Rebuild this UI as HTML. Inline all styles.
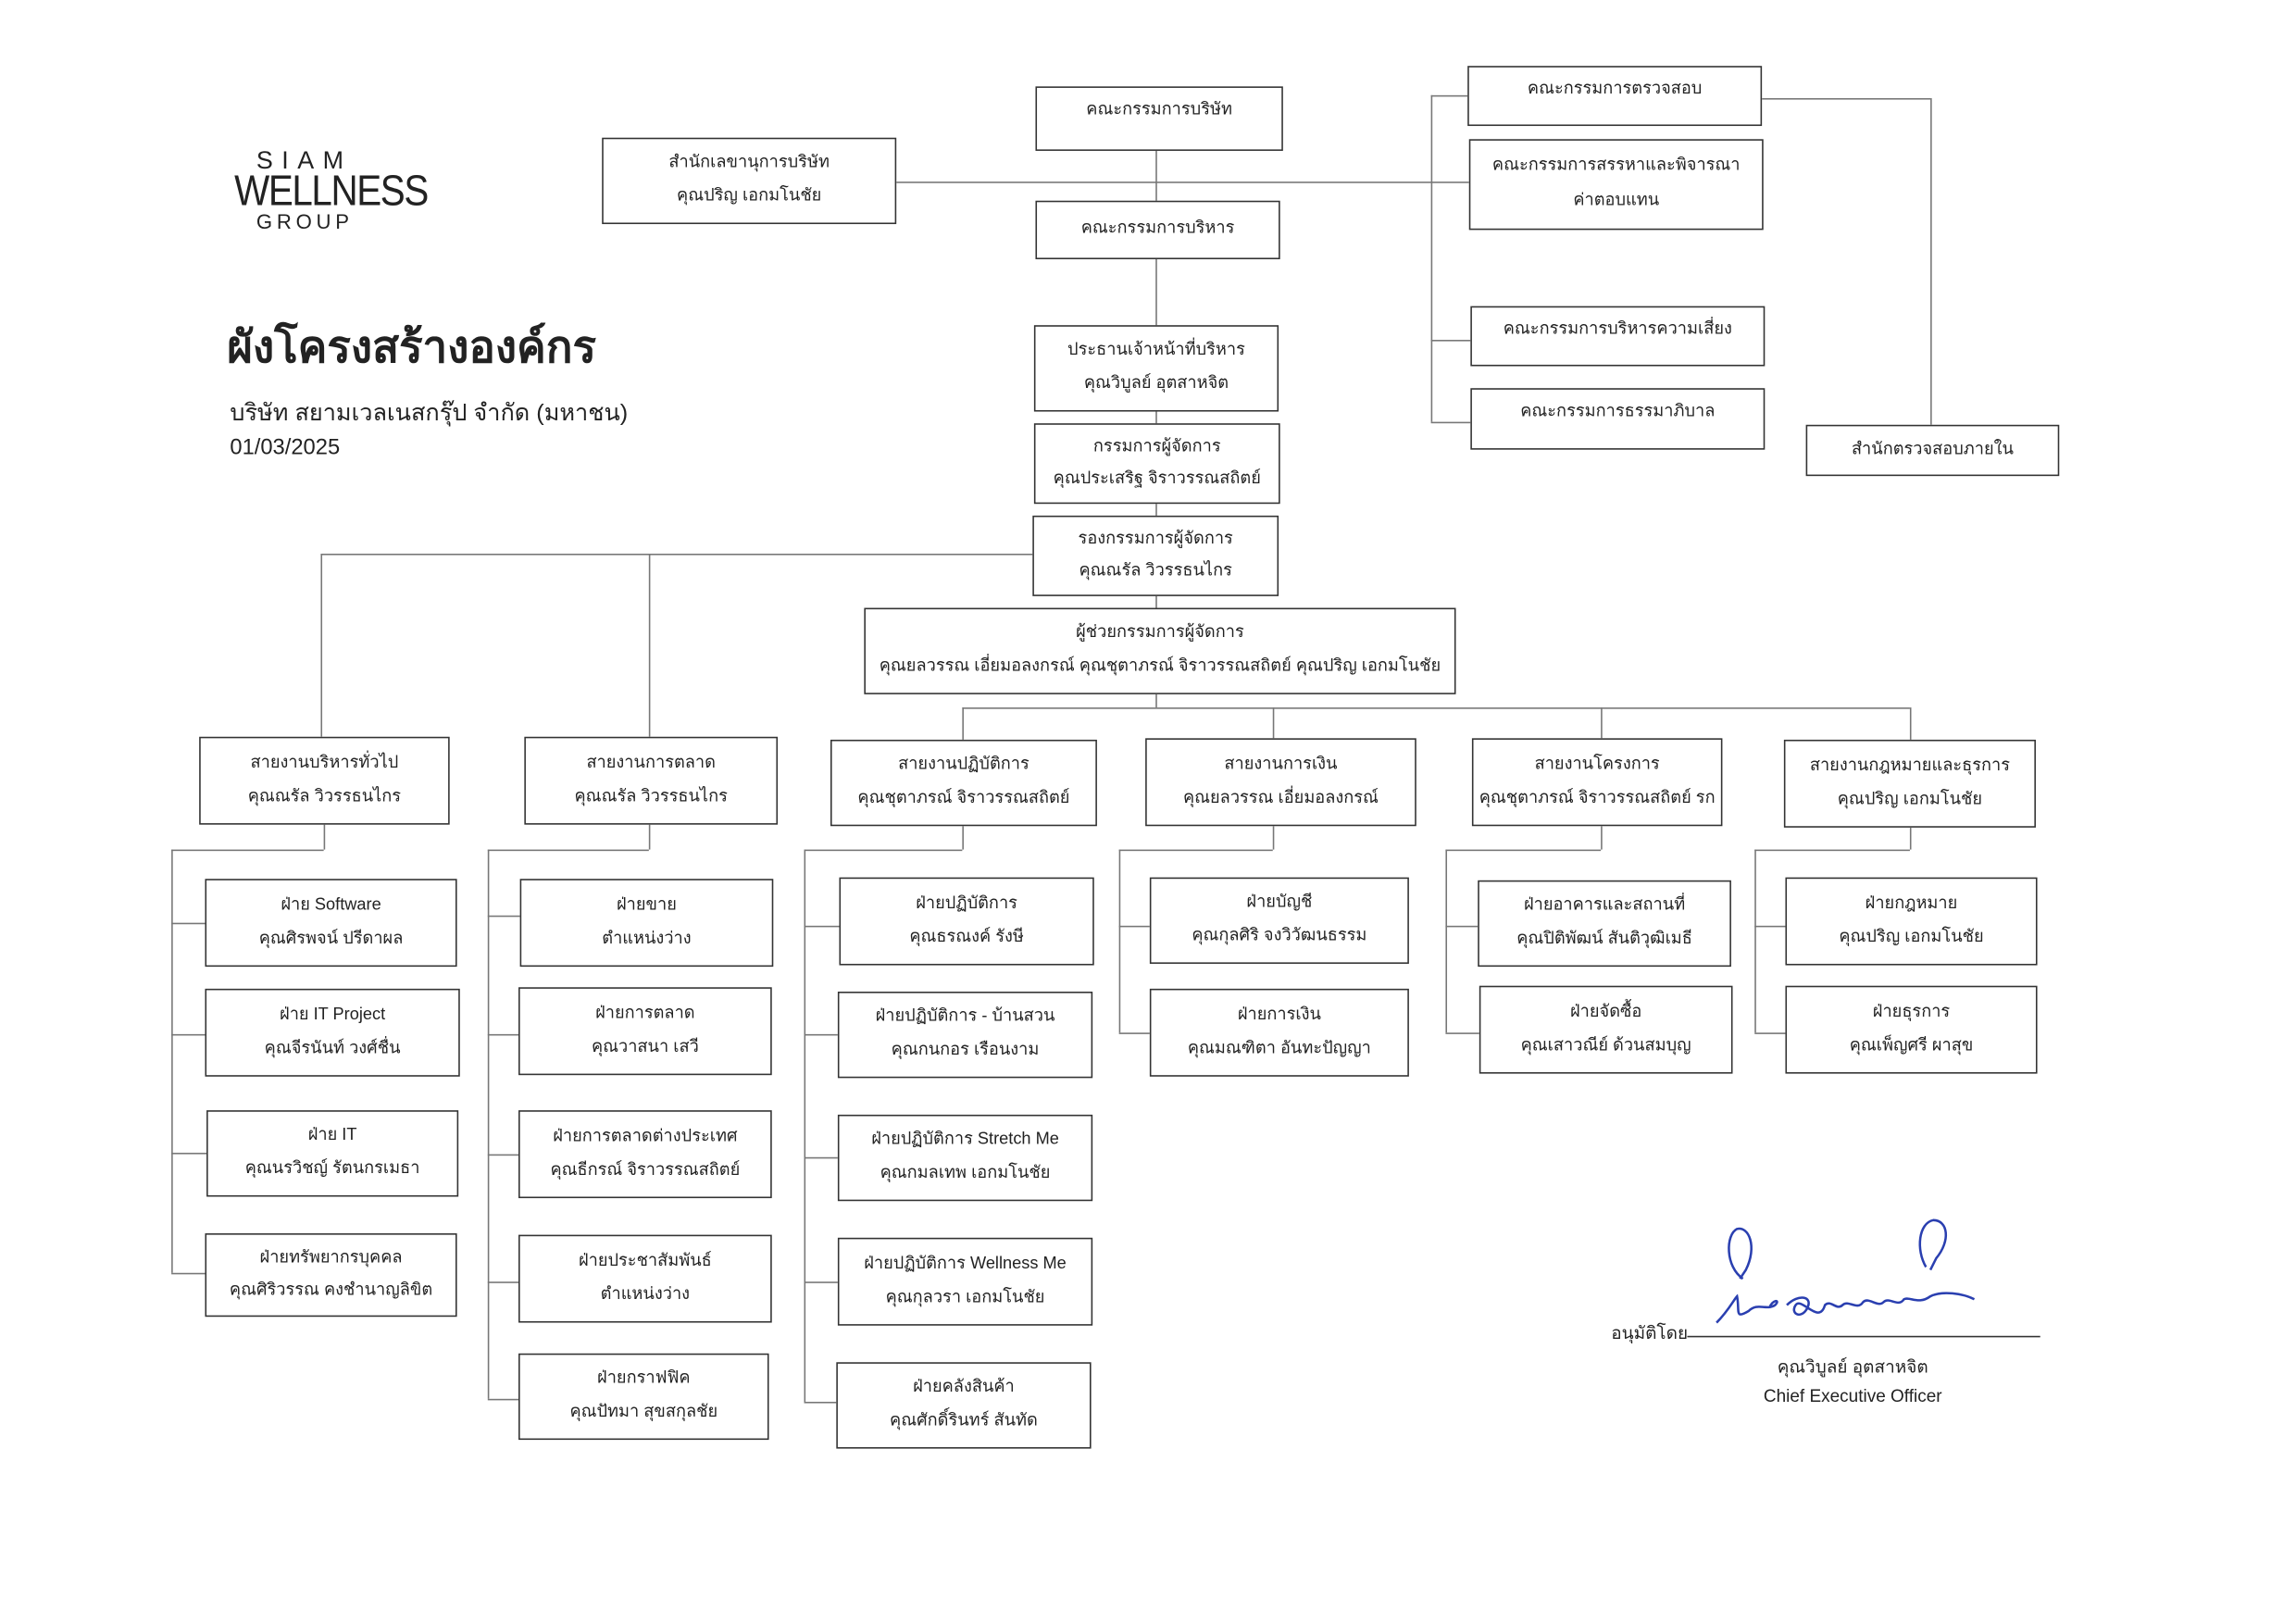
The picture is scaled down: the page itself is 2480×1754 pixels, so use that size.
<!DOCTYPE html>
<html><head><meta charset="utf-8">
<style>
html,body{margin:0;padding:0;background:#fff;}
body{width:2480px;height:1754px;overflow:hidden;position:relative;}
#w{position:absolute;left:0;top:0;width:1568px;height:1109px;transform:scale(1.582);transform-origin:0 0;font-family:"Liberation Sans","DejaVu Sans",sans-serif;color:#222;}
.b{position:absolute;box-sizing:border-box;border:1px solid #333;background:#fff;display:flex;flex-direction:column;justify-content:space-evenly;align-items:center;font-size:11.5px;line-height:1;white-space:nowrap;}
.t{justify-content:flex-start;padding-top:10px;}
.h{position:absolute;height:1px;background:#777;}
.v{position:absolute;width:1px;background:#777;}
.x{position:absolute;white-space:nowrap;}
</style></head><body><div id="w">

<div class="x" style="left:175px;top:100px;font-size:17px;letter-spacing:6px;">SIAM</div>
<div class="x" style="left:160px;top:115px;font-size:29px;letter-spacing:-1px;transform:scaleX(0.88);transform-origin:0 0;">WELLNESS</div>
<div class="x" style="left:175px;top:143px;font-size:14px;letter-spacing:3px;">GROUP</div>

<div class="x" style="left:155px;top:214px;font-size:30px;font-weight:bold;">ผังโครงสร้างองค์กร</div>
<div class="x" style="left:157px;top:270px;font-size:16px;">บริษัท สยามเวลเนสกรุ๊ป จำกัด (มหาชน)</div>
<div class="x" style="left:157px;top:297px;font-size:15px;">01/03/2025</div>

<div class="v" style="left:789px;top:103px;height:312px;"></div>
<div class="h" style="left:612px;top:124px;width:391px;"></div>
<div class="v" style="left:977px;top:65px;height:223px;"></div>
<div class="h" style="left:977px;top:65px;width:25px;"></div>
<div class="h" style="left:977px;top:232px;width:27px;"></div>
<div class="h" style="left:977px;top:288px;width:27px;"></div>
<div class="h" style="left:1203px;top:67px;width:115px;"></div>
<div class="v" style="left:1318px;top:67px;height:223px;"></div>
<div class="h" style="left:219px;top:378px;width:486px;"></div>
<div class="v" style="left:219px;top:378px;height:125px;"></div>
<div class="v" style="left:443px;top:378px;height:125px;"></div>
<div class="v" style="left:789px;top:474px;height:9px;"></div>
<div class="h" style="left:657px;top:483px;width:647px;"></div>
<div class="v" style="left:657px;top:483px;height:22px;"></div>
<div class="v" style="left:869px;top:483px;height:21px;"></div>
<div class="v" style="left:1093px;top:483px;height:21px;"></div>
<div class="v" style="left:1304px;top:483px;height:22px;"></div>

<div class="b t" style="left:707px;top:59px;width:169px;height:44px;">คณะกรรมการบริษัท</div>
<div class="b" style="left:411px;top:94px;width:201px;height:59px;"><div>สำนักเลขานุการบริษัท</div><div>คุณปริญ เอกมโนชัย</div></div>
<div class="b" style="left:707px;top:137px;width:167px;height:40px;">คณะกรรมการบริหาร</div>
<div class="b" style="left:706px;top:222px;width:167px;height:59px;"><div>ประธานเจ้าหน้าที่บริหาร</div><div>คุณวิบูลย์ อุตสาหจิต</div></div>
<div class="b" style="left:706px;top:289px;width:168px;height:55px;"><div>กรรมการผู้จัดการ</div><div>คุณประเสริฐ จิราวรรณสถิตย์</div></div>
<div class="b" style="left:705px;top:352px;width:168px;height:55px;"><div>รองกรรมการผู้จัดการ</div><div>คุณณรัล วิวรรธนไกร</div></div>
<div class="b" style="left:590px;top:415px;width:404px;height:59px;"><div>ผู้ช่วยกรรมการผู้จัดการ</div><div>คุณยลวรรณ เอี่ยมอลงกรณ์ คุณชุตาภรณ์ จิราวรรณสถิตย์ คุณปริญ เอกมโนชัย</div></div>

<div class="b t" style="left:1002px;top:45px;width:201px;height:41px;">คณะกรรมการตรวจสอบ</div>
<div class="b" style="left:1003px;top:95px;width:201px;height:62px;"><div>คณะกรรมการสรรหาและพิจารณา</div><div>ค่าตอบแทน</div></div>
<div class="b t" style="left:1004px;top:209px;width:201px;height:41px;">คณะกรรมการบริหารความเสี่ยง</div>
<div class="b t" style="left:1004px;top:265px;width:201px;height:42px;">คณะกรรมการธรรมาภิบาล</div>
<div class="b" style="left:1233px;top:290px;width:173px;height:35px;">สำนักตรวจสอบภายใน</div>

<div class="b" style="left:136px;top:503px;width:171px;height:60px;"><div>สายงานบริหารทั่วไป</div><div>คุณณรัล วิวรรธนไกร</div></div>
<div class="b" style="left:358px;top:503px;width:173px;height:60px;"><div>สายงานการตลาด</div><div>คุณณรัล วิวรรธนไกร</div></div>
<div class="b" style="left:567px;top:505px;width:182px;height:59px;"><div>สายงานปฏิบัติการ</div><div>คุณชุตาภรณ์ จิราวรรณสถิตย์</div></div>
<div class="b" style="left:782px;top:504px;width:185px;height:60px;"><div>สายงานการเงิน</div><div>คุณยลวรรณ เอี่ยมอลงกรณ์</div></div>
<div class="b" style="left:1005px;top:504px;width:171px;height:60px;"><div>สายงานโครงการ</div><div>คุณชุตาภรณ์ จิราวรรณสถิตย์ รก</div></div>
<div class="b" style="left:1218px;top:505px;width:172px;height:60px;"><div>สายงานกฎหมายและธุรการ</div><div>คุณปริญ เอกมโนชัย</div></div>

<div class="v" style="left:221px;top:563px;height:17px;"></div><div class="h" style="left:117px;top:580px;width:104px;"></div><div class="v" style="left:117px;top:580px;height:289px;"></div>
<div class="h" style="left:117px;top:630px;width:23px;"></div><div class="h" style="left:117px;top:706px;width:23px;"></div><div class="h" style="left:117px;top:787px;width:24px;"></div><div class="h" style="left:117px;top:869px;width:23px;"></div>

<div class="v" style="left:443px;top:563px;height:17px;"></div><div class="h" style="left:333px;top:580px;width:110px;"></div><div class="v" style="left:333px;top:580px;height:375px;"></div>
<div class="h" style="left:333px;top:625px;width:22px;"></div><div class="h" style="left:333px;top:706px;width:21px;"></div><div class="h" style="left:333px;top:788px;width:21px;"></div><div class="h" style="left:333px;top:875px;width:21px;"></div><div class="h" style="left:333px;top:955px;width:21px;"></div>

<div class="v" style="left:657px;top:564px;height:16px;"></div><div class="h" style="left:549px;top:580px;width:108px;"></div><div class="v" style="left:549px;top:580px;height:377px;"></div>
<div class="h" style="left:549px;top:632px;width:24px;"></div><div class="h" style="left:549px;top:706px;width:23px;"></div><div class="h" style="left:549px;top:790px;width:23px;"></div><div class="h" style="left:549px;top:875px;width:23px;"></div><div class="h" style="left:549px;top:957px;width:22px;"></div>

<div class="v" style="left:869px;top:564px;height:16px;"></div><div class="h" style="left:764px;top:580px;width:105px;"></div><div class="v" style="left:764px;top:580px;height:125px;"></div>
<div class="h" style="left:764px;top:632px;width:21px;"></div><div class="h" style="left:764px;top:705px;width:21px;"></div>

<div class="v" style="left:1093px;top:564px;height:16px;"></div><div class="h" style="left:987px;top:580px;width:106px;"></div><div class="v" style="left:987px;top:580px;height:125px;"></div>
<div class="h" style="left:987px;top:632px;width:22px;"></div><div class="h" style="left:987px;top:705px;width:23px;"></div>

<div class="v" style="left:1304px;top:565px;height:15px;"></div><div class="h" style="left:1198px;top:580px;width:106px;"></div><div class="v" style="left:1198px;top:580px;height:125px;"></div>
<div class="h" style="left:1198px;top:632px;width:21px;"></div><div class="h" style="left:1198px;top:705px;width:21px;"></div>

<div class="b" style="left:140px;top:600px;width:172px;height:60px;"><div>ฝ่าย Software</div><div>คุณศิรพจน์ ปรีดาผล</div></div>
<div class="b" style="left:140px;top:675px;width:174px;height:60px;"><div>ฝ่าย IT Project</div><div>คุณจีรนันท์ วงศ์ชื่น</div></div>
<div class="b" style="left:141px;top:758px;width:172px;height:59px;"><div>ฝ่าย IT</div><div>คุณนรวิชญ์ รัตนกรเมธา</div></div>
<div class="b" style="left:140px;top:842px;width:172px;height:57px;"><div>ฝ่ายทรัพยากรบุคคล</div><div>คุณศิริวรรณ คงชำนาญลิขิต</div></div>
<div class="b" style="left:355px;top:600px;width:173px;height:60px;"><div>ฝ่ายขาย</div><div>ตำแหน่งว่าง</div></div>
<div class="b" style="left:354px;top:674px;width:173px;height:60px;"><div>ฝ่ายการตลาด</div><div>คุณวาสนา เสวี</div></div>
<div class="b" style="left:354px;top:758px;width:173px;height:60px;"><div>ฝ่ายการตลาดต่างประเทศ</div><div>คุณธีกรณ์ จิราวรรณสถิตย์</div></div>
<div class="b" style="left:354px;top:843px;width:173px;height:60px;"><div>ฝ่ายประชาสัมพันธ์</div><div>ตำแหน่งว่าง</div></div>
<div class="b" style="left:354px;top:924px;width:171px;height:59px;"><div>ฝ่ายกราฟฟิค</div><div>คุณปัทมา สุขสกุลชัย</div></div>
<div class="b" style="left:573px;top:599px;width:174px;height:60px;"><div>ฝ่ายปฏิบัติการ</div><div>คุณธรณงค์ รังษี</div></div>
<div class="b" style="left:572px;top:677px;width:174px;height:59px;"><div>ฝ่ายปฏิบัติการ - บ้านสวน</div><div>คุณกนกอร เรือนงาม</div></div>
<div class="b" style="left:572px;top:761px;width:174px;height:59px;"><div>ฝ่ายปฏิบัติการ Stretch Me</div><div>คุณกมลเทพ เอกมโนชัย</div></div>
<div class="b" style="left:572px;top:845px;width:174px;height:60px;"><div>ฝ่ายปฏิบัติการ Wellness Me</div><div>คุณกุลวรา เอกมโนชัย</div></div>
<div class="b" style="left:571px;top:930px;width:174px;height:59px;"><div>ฝ่ายคลังสินค้า</div><div>คุณศักดิ์รินทร์ สันทัด</div></div>
<div class="b" style="left:785px;top:599px;width:177px;height:59px;"><div>ฝ่ายบัญชี</div><div>คุณกุลศิริ จงวิวัฒนธรรม</div></div>
<div class="b" style="left:785px;top:675px;width:177px;height:60px;"><div>ฝ่ายการเงิน</div><div>คุณมณฑิตา อันทะปัญญา</div></div>
<div class="b" style="left:1009px;top:601px;width:173px;height:59px;"><div>ฝ่ายอาคารและสถานที่</div><div>คุณปิติพัฒน์ สันติวุฒิเมธี</div></div>
<div class="b" style="left:1010px;top:673px;width:173px;height:60px;"><div>ฝ่ายจัดซื้อ</div><div>คุณเสาวณีย์ ด้วนสมบุญ</div></div>
<div class="b" style="left:1219px;top:599px;width:172px;height:60px;"><div>ฝ่ายกฎหมาย</div><div>คุณปริญ เอกมโนชัย</div></div>
<div class="b" style="left:1219px;top:673px;width:172px;height:60px;"><div>ฝ่ายธุรการ</div><div>คุณเพ็ญศรี ผาสุข</div></div>

<svg style="position:absolute;left:1150px;top:825px;" width="220" height="90" viewBox="0 0 220 90">
<g fill="none" stroke="#2a3fb0" stroke-width="1.6">
<path d="M40 48 C28 40 28 18 36 14 C44 12 50 26 42 42 L38 48"/>
<path d="M22 78 C30 70 34 62 36 60 C38 70 34 76 44 70 C50 64 56 70 62 66 C66 62 60 62 58 68"/>
<path d="M70 66 C78 58 88 60 84 68 C80 76 72 72 76 66 C80 60 92 80 96 66 C100 62 104 70 108 66 C112 62 118 70 122 64 C126 60 132 68 136 64 C140 60 146 68 150 62 C154 60 160 66 168 60 C176 56 190 58 198 62"/>
<path d="M165 40 C158 28 160 10 170 8 C180 8 182 22 172 34 L168 42"/>
</g></svg>
<div class="x" style="left:1100px;top:901px;font-size:12px;">อนุมัติโดย</div>
<div class="h" style="left:1152px;top:912px;width:241px;background:#333;"></div>
<div class="x" style="left:1265px;top:924px;font-size:12px;transform:translateX(-50%);">คุณวิบูลย์ อุตสาหจิต</div>
<div class="x" style="left:1265px;top:946px;font-size:12px;transform:translateX(-50%);">Chief Executive Officer</div>

</div></body></html>
